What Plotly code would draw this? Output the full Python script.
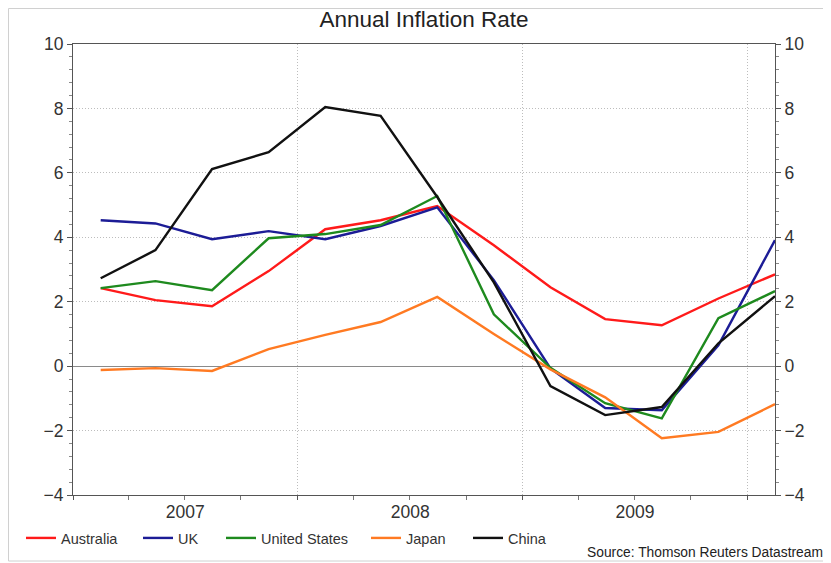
import plotly.graph_objects as go

dates = ["2007-02-15", "2007-05-15", "2007-08-15", "2007-11-15",
         "2008-02-15", "2008-05-15", "2008-08-15", "2008-11-15",
         "2009-02-15", "2009-05-15", "2009-08-15", "2009-11-15",
         "2010-02-15"]

australia = [2.42, 2.05, 1.86, 2.95, 4.25, 4.53, 4.97, 3.75, 2.45, 1.46, 1.27, 2.10, 2.85]
uk = [4.53, 4.43, 3.94, 4.19, 3.94, 4.35, 4.93, 2.67, -0.07, -1.30, -1.37, 0.65, 3.91]
united_states = [2.42, 2.64, 2.36, 3.97, 4.10, 4.38, 5.28, 1.61, -0.05, -1.15, -1.62, 1.49, 2.33]
japan = [-0.12, -0.06, -0.15, 0.53, 0.97, 1.37, 2.15, 1.00, -0.10, -0.97, -2.24, -2.04, -1.18]
china = [2.73, 3.60, 6.12, 6.64, 8.04, 7.77, 5.25, 2.60, -0.62, -1.52, -1.27, 0.71, 2.17]

names = ["Australia", "UK", "United States", "Japan", "China"]
values = [australia, uk, united_states, japan, china]
colors = ["#ff1a1a", "#1c1c96", "#1e8a1e", "#ff7a22", "#111111"]

y_range = [-4, 10]
x_range = ["2007-01-01", "2010-02-15"]

# figure geometry (page has an 8px body margin)
OFF = 8
W, H = 823, 555
L, T = 73 - OFF, 44 - OFF
pw, ph = 702, 451
R, B = W - L - pw, H - T - ph

def px(screen_x):
    return (screen_x - OFF - L) / pw

def py(screen_y):
    return (T + ph - (screen_y - OFF)) / ph

FONT = "Liberation Sans, Arial, sans-serif"
axis_font = dict(family=FONT, size=17.5, color="#333333")

legend_text_x = [61, 178, 261, 406, 508]

fig = go.Figure()
legends = {}
for i, (name, vals, color) in enumerate(zip(names, values, colors)):
    lname = "legend" if i == 0 else f"legend{i + 1}"
    fig.add_trace(go.Scatter(x=dates, y=vals, name=name, mode="lines",
                             line=dict(color=color, width=2.4), legend=lname))
    legends[lname] = dict(orientation="h", x=px(legend_text_x[i] - 40), xanchor="left",
                          y=py(538), yanchor="middle", itemwidth=30,
                          bgcolor="rgba(0,0,0,0)",
                          font=dict(family=FONT, size=14.5, color="#333333"))

# carrier for the right-hand axis labels (not shown)
fig.add_trace(go.Scatter(x=dates, y=china, yaxis="y2", mode="lines", opacity=0,
                         showlegend=False, hoverinfo="skip", line=dict(width=0)))

tick_style = dict(showline=True, linecolor="#555555", linewidth=1.2,
                  ticks="outside", ticklen=5, tickcolor="#555555")

fig.update_layout(
    width=W, height=H,
    margin=dict(l=L, r=R, t=T, b=B, autoexpand=False),
    paper_bgcolor="white", plot_bgcolor="white",
    title=dict(text="Annual Inflation Rate", x=0.5, xref="paper", xanchor="center",
               y=1 - 3.5 / H, yanchor="top", pad=dict(t=0, b=0),
               font=dict(family=FONT, size=22.5, color="#222222")),
    xaxis=dict(type="date", range=x_range, tick0="2007-01-01", dtick="M12",
               ticklabelmode="period", tickformat="%Y", ticklabelstandoff=-3,
               showgrid=True, gridcolor="#bdbdbd", griddash="1px,2px", gridwidth=1,
               showline=True, linecolor="#555555", linewidth=1.2,
               ticks="outside", ticklen=4, tickcolor="#555555",
               minor=dict(dtick="M3", tick0="2007-01-01", ticks="outside", ticklen=4,
                          tickcolor="#777777", showgrid=False),
               tickfont=axis_font, mirror=True, zeroline=False),
    yaxis=dict(range=y_range, dtick=2, tick0=0,
               showgrid=True, gridcolor="#bdbdbd", griddash="1px,2px", gridwidth=1,
               zeroline=True, zerolinecolor="#8a8a8a", zerolinewidth=1.3,
               minor=dict(dtick=0.4, tick0=0, ticks="outside", ticklen=3,
                          tickcolor="#888888", showgrid=False),
               tickfont=axis_font, mirror=True, **tick_style),
    yaxis2=dict(range=y_range, dtick=2, tick0=0, overlaying="y", side="right",
                showgrid=False, zeroline=False,
                minor=dict(dtick=0.4, tick0=0, ticks="outside", ticklen=3,
                           tickcolor="#888888", showgrid=False),
                tickfont=axis_font, **tick_style),
    annotations=[dict(text="Source: Thomson Reuters Datastream", xref="paper", yref="paper",
                      x=px(585), y=py(552), xanchor="left", yanchor="middle", showarrow=False,
                      font=dict(family=FONT, size=13.8, color="#222222"))],
    shapes=[dict(type="rect", xref="paper", yref="paper",
                 x0=px(OFF + 0.5), x1=px(860), y0=py(561), y1=py(OFF + 0.5),
                 line=dict(color="#d0d0d0", width=1), layer="below")],
    **legends,
)

fig.write_html("out.html")
